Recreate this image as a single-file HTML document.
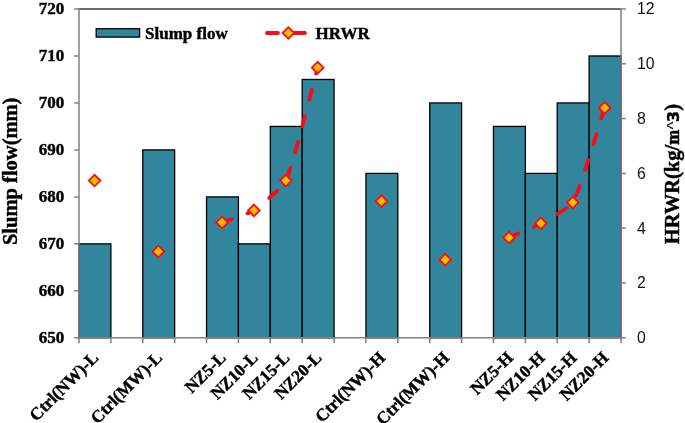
<!DOCTYPE html><html><head><meta charset="utf-8"><title>Chart</title><style>html,body{margin:0;padding:0;background:#fff}svg{display:block;will-change:transform}</style></head><body>
<svg width="685" height="423" viewBox="0 0 685 423">
<rect width="685" height="423" fill="#fff"/>
<rect x="79.00" y="243.86" width="31.88" height="93.94" fill="#31859C" stroke="#000" stroke-width="1.3"/>
<rect x="142.76" y="149.91" width="31.88" height="187.89" fill="#31859C" stroke="#000" stroke-width="1.3"/>
<rect x="206.53" y="196.89" width="31.88" height="140.91" fill="#31859C" stroke="#000" stroke-width="1.3"/>
<rect x="238.41" y="243.86" width="31.88" height="93.94" fill="#31859C" stroke="#000" stroke-width="1.3"/>
<rect x="270.29" y="126.43" width="31.88" height="211.37" fill="#31859C" stroke="#000" stroke-width="1.3"/>
<rect x="302.18" y="79.46" width="31.88" height="258.34" fill="#31859C" stroke="#000" stroke-width="1.3"/>
<rect x="365.94" y="173.40" width="31.88" height="164.40" fill="#31859C" stroke="#000" stroke-width="1.3"/>
<rect x="429.71" y="102.94" width="31.88" height="234.86" fill="#31859C" stroke="#000" stroke-width="1.3"/>
<rect x="493.47" y="126.43" width="31.88" height="211.37" fill="#31859C" stroke="#000" stroke-width="1.3"/>
<rect x="525.35" y="173.40" width="31.88" height="164.40" fill="#31859C" stroke="#000" stroke-width="1.3"/>
<rect x="557.24" y="102.94" width="31.88" height="234.86" fill="#31859C" stroke="#000" stroke-width="1.3"/>
<rect x="589.12" y="55.97" width="31.88" height="281.83" fill="#31859C" stroke="#000" stroke-width="1.3"/>
<path d="M79.0 9.0H621.0" fill="none" stroke="#3a3a3a" stroke-width="1.3"/>
<path d="M79.0 337.8V8.4M621.0 8.4V337.8" fill="none" stroke="#808080" stroke-width="1.5"/>
<path d="M79.0 337.8H621.0" fill="none" stroke="#808080" stroke-width="1.5"/>
<path d="M74.2 9.00H79.0M74.2 55.97H79.0M74.2 102.94H79.0M74.2 149.91H79.0M74.2 196.89H79.0M74.2 243.86H79.0M74.2 290.83H79.0M74.2 337.80H79.0M621.0 9.00h4.8M621.0 63.80h4.8M621.0 118.60h4.8M621.0 173.40h4.8M621.0 228.20h4.8M621.0 283.00h4.8M621.0 337.80h4.8M79.00 337.8v5.5M110.88 337.8v5.5M142.76 337.8v5.5M174.65 337.8v5.5M206.53 337.8v5.5M238.41 337.8v5.5M270.29 337.8v5.5M302.18 337.8v5.5M334.06 337.8v5.5M365.94 337.8v5.5M397.82 337.8v5.5M429.71 337.8v5.5M461.59 337.8v5.5M493.47 337.8v5.5M525.35 337.8v5.5M557.24 337.8v5.5M589.12 337.8v5.5M621.00 337.8v5.5" fill="none" stroke="#808080" stroke-width="1.5"/>
<text x="64.3" y="13.90" text-anchor="end" font-family="'Liberation Serif',serif" font-weight="bold" stroke="#000" stroke-width="0.42" font-size="17">720</text>
<text x="64.3" y="60.87" text-anchor="end" font-family="'Liberation Serif',serif" font-weight="bold" stroke="#000" stroke-width="0.42" font-size="17">710</text>
<text x="64.3" y="107.84" text-anchor="end" font-family="'Liberation Serif',serif" font-weight="bold" stroke="#000" stroke-width="0.42" font-size="17">700</text>
<text x="64.3" y="154.81" text-anchor="end" font-family="'Liberation Serif',serif" font-weight="bold" stroke="#000" stroke-width="0.42" font-size="17">690</text>
<text x="64.3" y="201.79" text-anchor="end" font-family="'Liberation Serif',serif" font-weight="bold" stroke="#000" stroke-width="0.42" font-size="17">680</text>
<text x="64.3" y="248.76" text-anchor="end" font-family="'Liberation Serif',serif" font-weight="bold" stroke="#000" stroke-width="0.42" font-size="17">670</text>
<text x="64.3" y="295.73" text-anchor="end" font-family="'Liberation Serif',serif" font-weight="bold" stroke="#000" stroke-width="0.42" font-size="17">660</text>
<text x="64.3" y="342.70" text-anchor="end" font-family="'Liberation Serif',serif" font-weight="bold" stroke="#000" stroke-width="0.42" font-size="17">650</text>
<text x="637" y="14.40" font-family="'Liberation Sans',sans-serif" font-size="15.8" fill="#111">12</text>
<text x="637" y="69.20" font-family="'Liberation Sans',sans-serif" font-size="15.8" fill="#111">10</text>
<text x="637" y="124.00" font-family="'Liberation Sans',sans-serif" font-size="15.8" fill="#111">8</text>
<text x="637" y="178.80" font-family="'Liberation Sans',sans-serif" font-size="15.8" fill="#111">6</text>
<text x="637" y="233.60" font-family="'Liberation Sans',sans-serif" font-size="15.8" fill="#111">4</text>
<text x="637" y="288.40" font-family="'Liberation Sans',sans-serif" font-size="15.8" fill="#111">2</text>
<text x="637" y="343.20" font-family="'Liberation Sans',sans-serif" font-size="15.8" fill="#111">0</text>
<text transform="translate(99.44 358.80) rotate(-45)" text-anchor="end" font-family="'Liberation Serif',serif" font-weight="bold" stroke="#000" stroke-width="0.42" font-size="17.3">Ctrl(NW)-L</text>
<text transform="translate(163.21 358.80) rotate(-45)" text-anchor="end" font-family="'Liberation Serif',serif" font-weight="bold" stroke="#000" stroke-width="0.42" font-size="17.3">Ctrl(MW)-L</text>
<text transform="translate(226.97 358.80) rotate(-45)" text-anchor="end" font-family="'Liberation Serif',serif" font-weight="bold" stroke="#000" stroke-width="0.42" font-size="17.3">NZ5-L</text>
<text transform="translate(258.85 358.80) rotate(-45)" text-anchor="end" font-family="'Liberation Serif',serif" font-weight="bold" stroke="#000" stroke-width="0.42" font-size="17.3">NZ10-L</text>
<text transform="translate(290.74 358.80) rotate(-45)" text-anchor="end" font-family="'Liberation Serif',serif" font-weight="bold" stroke="#000" stroke-width="0.42" font-size="17.3">NZ15-L</text>
<text transform="translate(322.62 358.80) rotate(-45)" text-anchor="end" font-family="'Liberation Serif',serif" font-weight="bold" stroke="#000" stroke-width="0.42" font-size="17.3">NZ20-L</text>
<text transform="translate(386.38 358.80) rotate(-45)" text-anchor="end" font-family="'Liberation Serif',serif" font-weight="bold" stroke="#000" stroke-width="0.42" font-size="17.3">Ctrl(NW)-H</text>
<text transform="translate(450.15 358.80) rotate(-45)" text-anchor="end" font-family="'Liberation Serif',serif" font-weight="bold" stroke="#000" stroke-width="0.42" font-size="17.3">Ctrl(MW)-H</text>
<text transform="translate(513.91 358.80) rotate(-45)" text-anchor="end" font-family="'Liberation Serif',serif" font-weight="bold" stroke="#000" stroke-width="0.42" font-size="17.3">NZ5-H</text>
<text transform="translate(545.79 358.80) rotate(-45)" text-anchor="end" font-family="'Liberation Serif',serif" font-weight="bold" stroke="#000" stroke-width="0.42" font-size="17.3">NZ10-H</text>
<text transform="translate(577.68 358.80) rotate(-45)" text-anchor="end" font-family="'Liberation Serif',serif" font-weight="bold" stroke="#000" stroke-width="0.42" font-size="17.3">NZ15-H</text>
<text transform="translate(609.56 358.80) rotate(-45)" text-anchor="end" font-family="'Liberation Serif',serif" font-weight="bold" stroke="#000" stroke-width="0.42" font-size="17.3">NZ20-H</text>
<text transform="translate(17.2 171.3) rotate(-90)" text-anchor="middle" font-family="'Liberation Serif',serif" font-weight="bold" stroke="#000" stroke-width="0.42" font-size="20.5">Slump flow(mm)</text>
<text transform="translate(678.6 244.3) rotate(-90)" font-family="'Liberation Serif',serif" font-weight="bold" stroke="#000" stroke-width="0.42" font-size="20.5">HRWR(kg/<tspan font-family="'DejaVu Serif Condensed','DejaVu Serif',serif" font-size="16">m</tspan><tspan font-family="'Liberation Sans',sans-serif" font-weight="normal" stroke="none" font-size="17">^</tspan><tspan font-family="'DejaVu Sans',sans-serif" font-size="16" dx="-0.3">3</tspan>)</text>
<path d="M222.07 222.47C227.17 220.54 249.40 213.41 253.95 210.42C259.79 206.58 282.98 186.93 285.84 180.55C293.49 163.41 312.62 85.72 317.72 67.66" fill="none" stroke="#FF0A14" stroke-width="3.8" stroke-linecap="round" stroke-dasharray="10.3 16.7"/>
<path d="M509.01 237.54C514.11 235.26 536.00 225.99 540.89 223.29C546.23 220.36 569.83 207.80 572.78 202.47C580.50 188.50 599.56 123.06 604.66 107.94" fill="none" stroke="#FF0A14" stroke-width="3.8" stroke-linecap="round" stroke-dasharray="10.3 16.7"/>
<path d="M88.74 180.55L94.54 174.75L100.34 180.55L94.54 186.35Z" fill="#FFC000" stroke="#FF0A14" stroke-width="1.8" stroke-linejoin="miter"/>
<path d="M152.51 251.52L158.31 245.72L164.11 251.52L158.31 257.32Z" fill="#FFC000" stroke="#FF0A14" stroke-width="1.8" stroke-linejoin="miter"/>
<path d="M216.27 222.47L222.07 216.67L227.87 222.47L222.07 228.27Z" fill="#FFC000" stroke="#FF0A14" stroke-width="1.8" stroke-linejoin="miter"/>
<path d="M248.15 210.42L253.95 204.62L259.75 210.42L253.95 216.22Z" fill="#FFC000" stroke="#FF0A14" stroke-width="1.8" stroke-linejoin="miter"/>
<path d="M280.04 180.55L285.84 174.75L291.64 180.55L285.84 186.35Z" fill="#FFC000" stroke="#FF0A14" stroke-width="1.8" stroke-linejoin="miter"/>
<path d="M311.92 67.66L317.72 61.86L323.52 67.66L317.72 73.46Z" fill="#FFC000" stroke="#FF0A14" stroke-width="1.8" stroke-linejoin="miter"/>
<path d="M375.68 201.10L381.48 195.30L387.28 201.10L381.48 206.90Z" fill="#FFC000" stroke="#FF0A14" stroke-width="1.8" stroke-linejoin="miter"/>
<path d="M439.45 259.74L445.25 253.94L451.05 259.74L445.25 265.54Z" fill="#FFC000" stroke="#FF0A14" stroke-width="1.8" stroke-linejoin="miter"/>
<path d="M503.21 237.54L509.01 231.74L514.81 237.54L509.01 243.34Z" fill="#FFC000" stroke="#FF0A14" stroke-width="1.8" stroke-linejoin="miter"/>
<path d="M535.09 223.29L540.89 217.49L546.69 223.29L540.89 229.09Z" fill="#FFC000" stroke="#FF0A14" stroke-width="1.8" stroke-linejoin="miter"/>
<path d="M566.98 202.47L572.78 196.67L578.58 202.47L572.78 208.27Z" fill="#FFC000" stroke="#FF0A14" stroke-width="1.8" stroke-linejoin="miter"/>
<path d="M598.86 107.94L604.66 102.14L610.46 107.94L604.66 113.74Z" fill="#FFC000" stroke="#FF0A14" stroke-width="1.8" stroke-linejoin="miter"/>
<rect x="96.2" y="28.7" width="43.4" height="8.4" fill="#31859C" stroke="#000" stroke-width="1.3"/>
<text x="145" y="38.8" font-family="'Liberation Serif',serif" font-weight="bold" stroke="#000" stroke-width="0.42" font-size="17">Slump flow</text>
<path d="M267 33H309" fill="none" stroke="#FF0A14" stroke-width="3.8" stroke-linecap="round" stroke-dasharray="11 16"/>
<path d="M282.60 33.00L288.40 27.20L294.20 33.00L288.40 38.80Z" fill="#FFC000" stroke="#FF0A14" stroke-width="1.8" stroke-linejoin="miter"/>
<text x="315.5" y="38.8" font-family="'Liberation Serif',serif" font-weight="bold" stroke="#000" stroke-width="0.42" font-size="17">HRWR</text>
</svg>
</body></html>
